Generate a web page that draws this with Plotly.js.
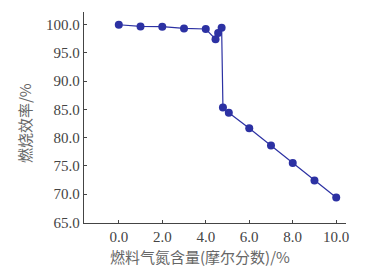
<!DOCTYPE html>
<html>
<head>
<meta charset="utf-8">
<script src="https://cdn.plot.ly/plotly-3.0.1.min.js"></script>
<style>html,body{margin:0;padding:0;background:#fff;}#chart{width:374px;height:269px;}</style>
</head>
<body>
<div id="chart"></div>
<script>
const nitrogenContent = [0.0, 1.0, 2.0, 3.0, 4.0, 4.45, 4.57, 4.73, 4.79, 5.06, 6.0, 7.0, 8.0, 9.0, 10.0];
const combustionEfficiency = [99.95, 99.65, 99.6, 99.3, 99.2, 97.4, 98.5, 99.4, 85.3, 84.4, 81.65, 78.6, 75.5, 72.4, 69.4];
const xTickValues = [0, 2, 4, 6, 8, 10];
const xTickLabels = ["0.0", "2.0", "4.0", "6.0", "8.0", "10.0"];
const yTickValues = [65, 70, 75, 80, 85, 90, 95, 100];
const yTickLabels = ["65.0", "70.0", "75.0", "80.0", "85.0", "90.0", "95.0", "100.0"];
const xTitle = "燃料气氮含量(摩尔分数)/%";
const yTitle = "燃烧效率/%";

const trace = {
  x: nitrogenContent,
  y: combustionEfficiency,
  type: "scatter",
  mode: "lines+markers",
  line: {color: "#2c31a3", width: 1.2},
  marker: {color: "#2c31a3", size: 8},
  hoverinfo: "none"
};

const tickFont = {family: "'Liberation Serif', 'Times New Roman', serif", size: 15, color: "#444"};
const titleFont = {family: "'Noto Sans CJK SC'", size: 15, color: "#666"};

const layout = {
  width: 374, height: 269,
  margin: {l: 84, r: 28, t: 12, b: 46},
  paper_bgcolor: "#fff", plot_bgcolor: "#fff",
  showlegend: false,
  xaxis: {
    range: [-1.6, 10.45],
    tickvals: xTickValues, ticktext: xTickLabels,
    ticks: "inside", ticklen: 3, tickcolor: "#444", tickwidth: 1,
    showline: true, linecolor: "#444", linewidth: 1.2,
    showgrid: false, zeroline: false,
    tickfont: tickFont
  },
  yaxis: {
    range: [64.9, 102.2],
    tickvals: yTickValues, ticktext: yTickLabels,
    ticks: "inside", ticklen: 3, tickcolor: "#444", tickwidth: 1,
    showline: true, linecolor: "#444", linewidth: 1.2,
    showgrid: false, zeroline: false,
    tickfont: tickFont
  },
  annotations: [
    {text: xTitle, xref: "paper", yref: "paper", x: 0.443, y: -0.16,
     xanchor: "center", yanchor: "middle", showarrow: false, font: titleFont},
    {text: yTitle, xref: "paper", yref: "paper", x: -0.225, y: 0.474,
     xanchor: "center", yanchor: "middle", showarrow: false, textangle: -90, font: titleFont}
  ]
};

Plotly.newPlot("chart", [trace], layout, {staticPlot: true, displayModeBar: false});
</script>
</body>
</html>
